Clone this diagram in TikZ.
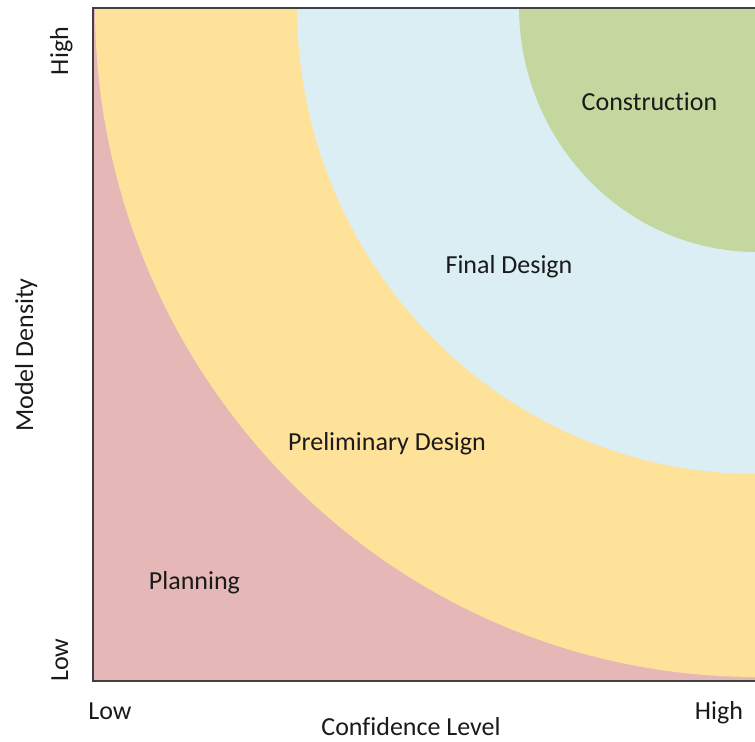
\documentclass[tikz,border=0pt]{standalone}
\usepackage{fontspec}
\setmainfont{Carlito}[Ligatures={NoCommon}]
\definecolor{pinkfill}{HTML}{E5B8B7}
\definecolor{yellowfill}{HTML}{FFE29A}
\definecolor{bluefill}{HTML}{DAEEF3}
\definecolor{greenfill}{HTML}{C4D79F}
\definecolor{framegray}{HTML}{404040}
\definecolor{txt}{HTML}{1A1A1A}
\begin{document}
\begin{tikzpicture}[x=1bp,y=-1bp,
  lbl/.style={font=\fontsize{26bp}{30bp}\selectfont, text=txt, inner sep=0pt, anchor=base},
  vlbl/.style={lbl, rotate=90},
  frameline/.style={draw=framegray, line width=1.5bp}]
\useasboundingbox (0,0) rectangle (755,742);
\begin{scope}
  \clip (93,8) rectangle (755,681);
  \fill[pinkfill] (93,8) rectangle (755,681);
  \fill[yellowfill] (757,6) ellipse [x radius=662bp, y radius=671bp];
  \fill[bluefill] (757,6) ellipse [x radius=460bp, y radius=468bp];
  \fill[greenfill] (757,6) ellipse [x radius=238bp, y radius=246bp];
\end{scope}
\coordinate (tl) at (93,8);
\coordinate (tr) at (755,8);
\coordinate (bl) at (93,681);
\coordinate (br) at (755,681);
\draw[frameline] (tr) -- (tl) -- (bl) -- (br);
\node[lbl] (construction) at (649.5,110) {Construction};
\node[lbl] (final) at (509,273) {Final Design};
\node[lbl] (prelim) at (387,450) {Preliminary Design};
\node[lbl] (planning) at (194.5,589) {Planning};
\node[lbl] (xlow) at (110,719) {Low};
\node[lbl] (xhigh) at (719,719) {High};
\node[lbl] (xlabel) at (411,735) {Confidence Level};
\node[vlbl] (yhigh) at (68,51) {High};
\node[vlbl] (ylow) at (68,660) {Low};
\node[vlbl] (ylabel) at (33,355) {Model Density};
\end{tikzpicture}
\end{document}
